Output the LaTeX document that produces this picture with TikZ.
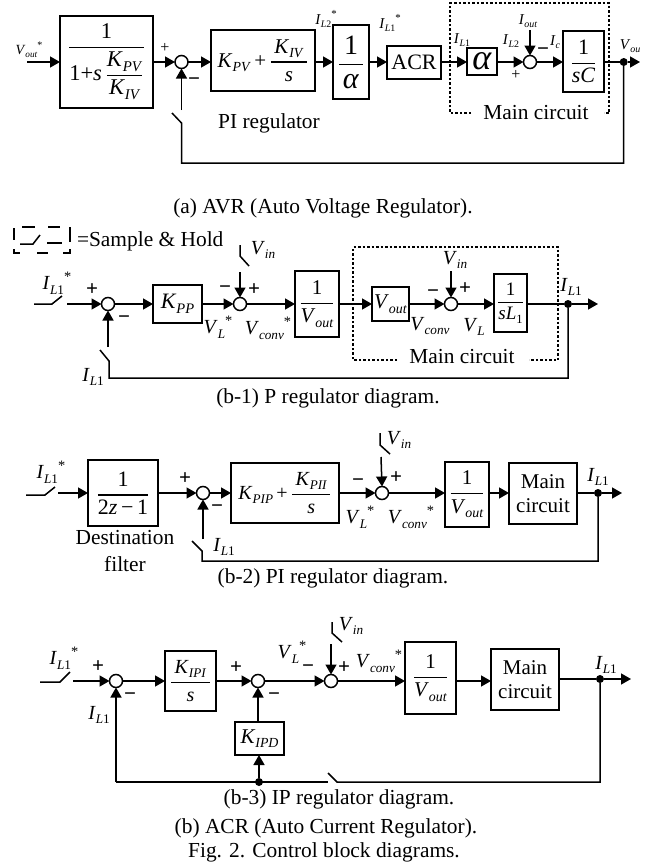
\documentclass[tikz,border=0pt]{standalone}
\usepackage{fontspec}
\setmainfont{Liberation Serif}
\usetikzlibrary{arrows.meta}
\makeatletter
\newcommand\rs[2]{{\pgfmathsetmacro\rsz{\f@size*#1}\fontsize{\rsz}{\rsz}\selectfont #2}}
\makeatother
\newcommand\ii[1]{\textit{#1}}
% variable with subscript and superscript
\newcommand\vv[3]{\ii{#1}\raisebox{-.22em}{\rs{.66}{#2}}\raisebox{.42em}{\rs{.72}{#3}}}
\newcommand\fr[2]{$\displaystyle{\mbox{#1}\above 1.1pt\mbox{#2}}$}
\newcommand\sz[1]{\fontsize{#1}{#1}\selectfont}
\newcommand\blk[6]{\node[blk,minimum width={(#4-#2)*1pt},minimum height={(#5-#3)*1pt}] (#1) at ({(#2+#4)/2},{(#3+#5)/2}) {#6};}
\newcommand\sm[3]{\node[sumj] (#1) at (#2,#3) {};}
\newcommand\dt[3]{\node[dotj] (#1) at (#2,#3) {};}
\tikzset{
 wire/.style={line width=1.5pt,line join=miter},
 arr/.style={wire,-{Triangle[length=10pt,width=11pt]}},
 blk/.style={draw,line width=1.6pt,inner sep=0pt,outer sep=0pt,align=center},
 sumj/.style={draw,circle,fill=white,line width=1.5pt,minimum size=13pt,inner sep=0pt,outer sep=0pt},
 dotj/.style={circle,fill=black,minimum size=8pt,inner sep=0pt,outer sep=0pt},
 dashbox/.style={line width=1.3pt,dash pattern=on 2.5pt off 2pt},
 lab/.style={inner sep=0pt,outer sep=0pt,font=\sz{20}},
 smalllab/.style={inner sep=0pt,outer sep=0pt,font=\sz{15}},
 sgn/.style={inner sep=0pt,outer sep=0pt,font=\sz{21}\bfseries},
 thinsgn/.style={inner sep=0pt,outer sep=0pt,font=\sz{16}},
 capt/.style={inner sep=0pt,outer sep=0pt,font=\sz{21.4}},
}
\begin{document}
\begin{tikzpicture}[x=1pt,y=-1pt]
\useasboundingbox (0,0) rectangle (652,865);
% ---------- (a)
\coordinate (ma) at (0,62);
\coordinate (ain) at (27,62);
\blk{a1}{60}{16}{153}{108}{\sz{22.5}\fr{1}{1+\ii{s}\,\fr{\vv{K}{\ii{PV}}{}}{\vv{K}{\ii{IV}}{}}}}
\sm{as1}{181.5}{62}
\blk{a2}{211}{30}{315}{91}{\sz{21}\vv{K}{\ii{PV}}{}\,+\,\fr{\,\vv{K}{\ii{IV}}{}\,}{\ii{s}}}
\blk{a3}{333}{25}{369}{99}{\sz{28}\fr{\,1\,}{\sz{30}\ii{α}}}
\blk{a4}{387}{46}{441}{79}{\sz{22}ACR}
\blk{a5}{467}{48}{497}{75}{\sz{36}\ii{α}}
\sm{as2}{530}{62}
\blk{a6}{563}{31}{604}{92}{\sz{22}\fr{1}{\ii{sC}}}
\dt{ad}{623.7}{62}
\coordinate (aout) at (640,62);
\coordinate (aiout) at (530,30);
\coordinate (afb1) at (181.5,123);
\coordinate (afb0) at (172,113);
\coordinate (afb2) at (181.5,110);
\coordinate (afb3) at (181.5,163);
\draw[arr] (ain) -- (a1.west |- ma);
\draw[arr] (a1.east |- ma) -- (as1.west);
\draw[arr] (as1.east) -- (a2.west |- ma);
\draw[arr] (a2.east |- ma) -- (a3.west |- ma);
\draw[arr] (a3.east |- ma) -- (a4.west |- ma);
\draw[arr] (a4.east |- ma) -- (a5.west |- ma);
\draw[arr] (a5.east |- ma) -- (as2.west);
\draw[arr] (as2.east) -- (a6.west |- ma);
\draw[wire] (a6.east |- ma) -- (ad);
\draw[arr] (ad) -- (aout);
\draw[arr] (aiout) -- (as2.north);
\draw[arr] (afb2) -- (as1.south);
\draw[wire] (afb0) -- (afb1) -- (afb3) -| (ad);
\draw[dashbox] (471,113) -- (450,113) -- (450,3) -- (609,3) -- (609,113) -- (604,113);
\node[smalllab,font=\sz{14}] (t1) at (29,50) {\vv{V}{\ii{out}}{*}};
\node[thinsgn] (t2) at (165,48) {+};
\node[sgn] (t3) at (194,82) {−};
\node[capt] (t4) at (269,123) {PI regulator};
\node[smalllab] (t5) at (326,19) {\vv{I}{\ii{L}2}{*}};
\node[smalllab] (t6) at (390,23) {\vv{I}{\ii{L}1}{*}};
\node[smalllab] (t7) at (462,40) {\vv{I}{\ii{L}1}{}};
\node[smalllab] (t8) at (511,41) {\vv{I}{\ii{L}2}{}};
\node[smalllab] (t9) at (528,21) {\vv{I}{\ii{out}}{}};
\node[sgn] (t10) at (543,52) {−};
\node[smalllab] (t11) at (555,42) {\vv{I}{\ii{c}}{}};
\node[thinsgn] (t12) at (516,75) {+};
\node[smalllab] (t13) at (630,46) {\vv{V}{\ii{ou}}{}};
\node[capt] (t14) at (536,113) {Main circuit};
\node[capt] (t15) at (323,208) {(a) AVR (Auto Voltage Regulator).};
% ---------- legend
\draw[line width=1.3pt] (14,228) -- (14,240) (22,227) -- (35,227) (48,227) -- (60,227) (70,227) -- (70,242)
  (14,249) -- (14,253) -- (20,253) (37,253) -- (48,253) (63,253) -- (70,253) -- (70,249);
\draw[wire] (20,244) -- (33,244) -- (40,235);
\draw[wire] (47,243) -- (62,243);
\node[capt,anchor=west] (t16) at (77,241) {=Sample \& Hold};
% ---------- (b-1)
\coordinate (mb) at (0,304);
\coordinate (bsw0) at (34,304);
\coordinate (bsw1) at (52,304);
\coordinate (bsw2) at (62,296);
\coordinate (bin) at (67,304);
\sm{bs1}{108}{304}
\blk{b1}{153}{285}{202}{323}{\sz{22}\vv{K}{\ii{PP}}{}}
\sm{bs2}{240}{304}
\blk{b2}{295}{271}{339}{337}{\sz{21}\fr{1}{\vv{V}{\ii{out}}{}}}
\blk{b3}{372}{287}{409}{321}{\sz{21}\vv{V}{\ii{out}}{}}
\sm{bs3}{451}{304}
\blk{b4}{494}{274}{527}{332}{\sz{19}\fr{1}{\ii{s}\vv{L}{1}{}}}
\dt{bd}{568}{304}
\coordinate (bout) at (598,304);
\coordinate (bv0) at (240,245);
\coordinate (bv1) at (240,256);
\coordinate (bv2) at (249,266);
\coordinate (bv3) at (240,272);
\coordinate (bv4) at (451,271);
\coordinate (bf0) at (100,350);
\coordinate (bf1) at (109,361);
\coordinate (bf2) at (108,347);
\coordinate (bf3) at (109,378);
\draw[wire] (bsw0) -- (bsw1) -- (bsw2);
\draw[arr] (bin) -- (bs1.west);
\draw[arr] (bs1.east) -- (b1.west |- mb);
\draw[arr] (b1.east |- mb) -- (bs2.west);
\draw[arr] (bs2.east) -- (b2.west |- mb);
\draw[arr] (b2.east |- mb) -- (b3.west |- mb);
\draw[arr] (b3.east |- mb) -- (bs3.west);
\draw[arr] (bs3.east) -- (b4.west |- mb);
\draw[wire] (b4.east |- mb) -- (bd);
\draw[arr] (bd) -- (bout);
\draw[wire] (bv0) -- (bv1) -- (bv2);
\draw[arr] (bv3) -- (bs2.north);
\draw[arr] (bv4) -- (bs3.north);
\draw[arr] (bf2) -- (bs1.south);
\draw[wire] (bf0) -- (bf1) -- (bf3) -| (bd);
\draw[dashbox] (397,360) -- (353,360) -- (353,247) -- (558,247) -- (558,360) -- (529,360);
\node[lab] (u1) at (57,283) {\vv{I}{\ii{L}1}{*}};
\node[sgn] (u2) at (92,290) {+};
\node[sgn] (u3) at (124,320) {−};
\node[lab] (u4) at (263,250) {\vv{V}{\ii{in}}{}};
\node[sgn] (u5) at (225,290) {−};
\node[sgn] (u6) at (254,290) {+};
\node[lab] (u7) at (218,327) {\vv{V}{\ii{L}}{*}};
\node[lab] (u8) at (268,328) {\vv{V}{\ii{conv}}{*}};
\node[lab] (u9) at (455,260) {\vv{V}{\ii{in}}{}};
\node[sgn] (u10) at (433,294) {−};
\node[sgn] (u11) at (465,289) {+};
\node[lab] (u12) at (430,326) {\vv{V}{\ii{conv}}{}};
\node[lab] (u13) at (474,327) {\vv{V}{\ii{L}}{}};
\node[lab] (u14) at (571,287) {\vv{I}{\ii{L}1}{}};
\node[lab] (u15) at (93,377) {\vv{I}{\ii{L}1}{}};
\node[capt] (u16) at (462,357) {Main circuit};
\node[capt] (u17) at (328,398) {(b-1) P regulator diagram.};
% ---------- (b-2)
\coordinate (mc) at (0,493);
\coordinate (csw0) at (26,495);
\coordinate (csw1) at (45,495);
\coordinate (csw2) at (55,487);
\coordinate (cin) at (58,493);
\blk{c1}{88}{460}{158}{526}{\sz{22}\fr{1}{2\ii{z}\,−\,1}}
\sm{cs1}{203}{493}
\blk{c2}{231}{463}{339}{523}{\sz{20}\vv{K}{\ii{PIP}}{}\,+\,\fr{\,\vv{K}{\ii{PII}}{}\,}{\ii{s}}}
\sm{cs2}{382}{493}
\blk{c3}{445}{462}{489}{527}{\sz{21}\fr{1}{\vv{V}{\ii{out}}{}}}
\blk{c4}{509}{463}{577}{524}{\sz{21}Main\\[9pt]\sz{21}circuit}
\dt{cd}{598}{493}
\coordinate (cout) at (622,493);
\coordinate (cv0) at (380,433);
\coordinate (cv1) at (380,445);
\coordinate (cv2) at (390,454);
\coordinate (cv3) at (381,457);
\coordinate (cf0) at (192,541);
\coordinate (cf1) at (202,551);
\coordinate (cf2) at (203,539);
\coordinate (cf3) at (202,561);
\draw[wire] (csw0) -- (csw1) -- (csw2);
\draw[arr] (cin) -- (c1.west |- mc);
\draw[arr] (c1.east |- mc) -- (cs1.west);
\draw[arr] (cs1.east) -- (c2.west |- mc);
\draw[arr] (c2.east |- mc) -- (cs2.west);
\draw[arr] (cs2.east) -- (c3.west |- mc);
\draw[arr] (c3.east |- mc) -- (c4.west |- mc);
\draw[wire] (c4.east |- mc) -- (cd);
\draw[arr] (cd) -- (cout);
\draw[wire] (cv0) -- (cv1) -- (cv2);
\draw[arr] (cv3) -- (cs2.north);
\draw[arr] (cf2) -- (cs1.south);
\draw[wire] (cf0) -- (cf1) -- (cf3) -| (cd);
\node[lab] (v1) at (51,472) {\vv{I}{\ii{L}1}{*}};
\node[capt] (v2) at (125,538) {Destination};
\node[capt] (v3) at (125,564) {filter};
\node[sgn] (v4) at (185,479) {+};
\node[sgn] (v5) at (217,509) {−};
\node[lab] (v6) at (224,547) {\vv{I}{\ii{L}1}{}};
\node[sgn] (v7) at (358,483) {−};
\node[sgn] (v8) at (396,478) {+};
\node[lab] (v9) at (399,440) {\vv{V}{\ii{in}}{}};
\node[lab] (v10) at (360,517) {\vv{V}{\ii{L}}{*}};
\node[lab] (v11) at (411,517) {\vv{V}{\ii{conv}}{*}};
\node[lab] (v12) at (598,477) {\vv{I}{\ii{L}1}{}};
\node[capt] (v13) at (333,578) {(b-2) PI regulator diagram.};
% ---------- (b-3)
\coordinate (md) at (0,681);
\coordinate (dsw0) at (40,682);
\coordinate (dsw1) at (60,682);
\coordinate (dsw2) at (70,672);
\coordinate (din) at (73,681);
\sm{ds1}{116}{681}
\blk{d1}{165}{651}{216}{711}{\sz{20}\fr{\,\vv{K}{\ii{IPI}}{}\,}{\ii{s}}}
\sm{ds2}{258}{681}
\blk{d2}{235}{722}{284}{755}{\sz{21}\vv{K}{\ii{IPD}}{}}
\sm{ds3}{331}{681}
\blk{d3}{405}{642}{456}{714}{\sz{21}\fr{\;1\;}{\vv{V}{\ii{out}}{}}}
\blk{d4}{491}{649}{559}{710}{\sz{21}Main\\[9pt]\sz{21}circuit}
\dt{dd}{600}{679}
\dt{dm}{259}{782}
\coordinate (dout) at (631,679);
\coordinate (dv0) at (332,622);
\coordinate (dv1) at (332,633);
\coordinate (dv2) at (342,642);
\coordinate (dv3) at (331,644);
\coordinate (dl0) at (116,782);
\coordinate (dl1) at (328,782);
\coordinate (dr0) at (328,773);
\coordinate (dr1) at (337,782);
\draw[wire] (dsw0) -- (dsw1) -- (dsw2);
\draw[arr] (din) -- (ds1.west);
\draw[arr] (ds1.east) -- (d1.west |- md);
\draw[arr] (d1.east |- md) -- (ds2.west);
\draw[arr] (ds2.east) -- (ds3.west);
\draw[arr] (ds3.east) -- (d3.west |- md);
\draw[arr] (d3.east |- md) -- (d4.west |- md);
\draw[wire] (d4.east |- dd) -- (dd);
\draw[arr] (dd) -- (dout);
\draw[wire] (dv0) -- (dv1) -- (dv2);
\draw[arr] (dv3) -- (ds3.north);
\draw[arr] (d2.north -| ds2) -- (ds2.south);
\draw[arr] (dm) -- (dm |- d2.south);
\draw[arr] (dl0) -- (ds1.south);
\draw[wire] (dl0) -- (dl1);
\draw[wire] (dr0) -- (dr1) -| (dd);
\node[lab] (w1) at (64,658) {\vv{I}{\ii{L}1}{*}};
\node[sgn] (w2) at (98,667) {+};
\node[sgn] (w3) at (130,697) {−};
\node[lab] (w4) at (99,715) {\vv{I}{\ii{L}1}{}};
\node[sgn] (w5) at (236,668) {+};
\node[sgn] (w6) at (274,697) {−};
\node[lab] (w7) at (292,652) {\vv{V}{\ii{L}}{*}};
\node[sgn] (w8) at (308,669) {−};
\node[sgn] (w9) at (344,668) {+};
\node[lab] (w10) at (351,626) {\vv{V}{\ii{in}}{}};
\node[lab] (w11) at (379,661) {\vv{V}{\ii{conv}}{*}};
\node[lab] (w12) at (606,665) {\vv{I}{\ii{L}1}{}};
\node[capt] (w13) at (339,799) {(b-3) IP regulator diagram.};
\node[capt] (w14) at (326,828) {(b) ACR (Auto Current Regulator).};
\node[capt] (w15) at (324,852) {Fig. 2. Control block diagrams.};
\end{tikzpicture}
\end{document}
